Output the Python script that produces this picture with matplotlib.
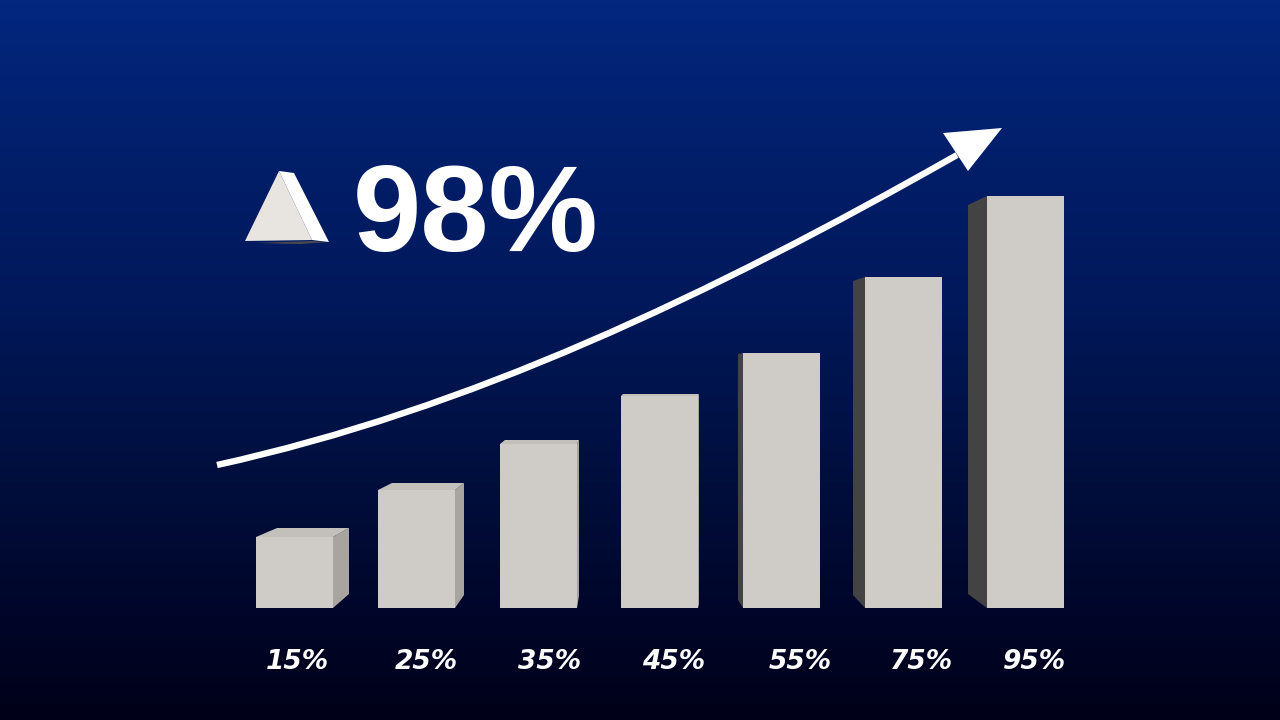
import numpy as np
import matplotlib
matplotlib.use('Agg')
import matplotlib.pyplot as plt
from matplotlib.colors import LinearSegmentedColormap
from matplotlib.path import Path
from matplotlib.patches import PathPatch

labels = ['15%', '25%', '35%', '45%', '55%', '75%', '95%']
heights = [71, 118, 164, 212, 255, 331, 412]
headline = '98%'

# layout, in pixels of the 1280x720 frame
bar_left = [256, 378, 500, 621, 743, 865, 987]
bar_w = 77
base_y = 608
side_dx = [16, 9, 2, 1, -5, -12, -19]
side_dy = [-9, -7, -4, -2, 1, 4, 9]
top_back_dx = [21, 14, 5, 2, 0, 0, 0]
side_bottom = [594, 595, 596, 604, 600, 595, 594]
label_x = [297, 426, 550, 674, 800, 922, 1034]

plt.rcParams['font.family'] = ['Liberation Sans', 'DejaVu Sans']

fig = plt.figure(figsize=(12.8, 7.2), dpi=100)
ax = fig.add_axes([0, 0, 1, 1])

# background
grad = LinearSegmentedColormap.from_list('bg', [(0, '#03277f'), (0.2, '#011f6b'),
                                                (0.42, '#01185a'), (0.65, '#000f3e'),
                                                (0.85, '#00062a'), (1, '#000118')])
ax.imshow(np.linspace(0, 1, 720).reshape(-1, 1), cmap=grad, extent=(0, 1280, 720, 0),
          aspect='auto', zorder=0)

# bars
ax.bar(bar_left, [-h for h in heights], width=bar_w, bottom=base_y, align='edge',
       color='#cfccc8', zorder=3)

for i in range(len(labels)):
    l = bar_left[i]
    r = l + bar_w
    top = base_y - heights[i]
    dx = side_dx[i]
    dy = side_dy[i]
    # side face
    if dx > 0:
        ax.fill([r, r + dx, r + dx, r], [top, top + dy, side_bottom[i], base_y],
                color='#a8a5a0', lw=0, zorder=2)
    else:
        ax.fill([l, l + dx, l + dx, l], [top, top + dy, side_bottom[i], base_y],
                color='#434343', lw=0, zorder=2)
    # top face
    if dy < 0:
        ax.fill([l, l + top_back_dx[i], r + dx, r], [top, top + dy, top + dy, top],
                color='#c3c0bb', lw=0, zorder=2)

# growth arrow
curve = Path([(217, 465), (467, 410), (707, 297), (957, 155)],
             [Path.MOVETO, Path.CURVE4, Path.CURVE4, Path.CURVE4])
ax.add_patch(PathPatch(curve, fc='none', ec='white', lw=4.6, capstyle='butt', zorder=4))
ax.fill([1002, 943, 968], [128, 133, 171], color='white', lw=0, zorder=5)

# little 3d triangle
ax.fill([255, 312, 329, 300], [243, 241, 242, 244], color='#4a4a4e', lw=0, zorder=4)
ax.fill([279, 245, 312], [171, 241, 240], color='#e8e5e1', lw=0, zorder=5)
ax.fill([279, 294, 329, 312], [171, 173, 242, 240], color='white', lw=0, zorder=5)

ax.text(353, 206, headline, color='white', fontsize=88.5, fontweight='bold',
        ha='left', va='center_baseline', zorder=6)

# labels
for x, lab in zip(label_x, labels):
    ax.text(x, 662, lab, color='white', fontsize=19, fontweight='bold', fontstyle='italic',
            family=['DejaVu Sans'], ha='center', va='center', zorder=6)

ax.set_xlim(0, 1280)
ax.set_ylim(720, 0)
ax.axis('off')
fig.savefig('out.png', dpi=100)
